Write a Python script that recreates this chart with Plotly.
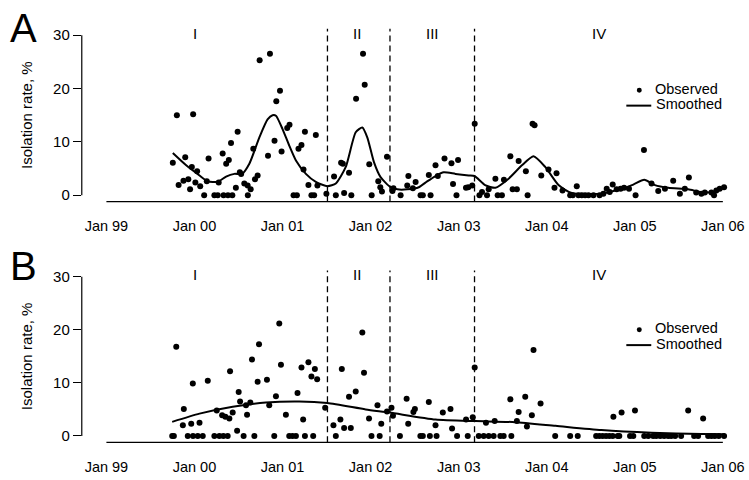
import plotly.graph_objects as go

# ---------------- data ----------------
tick_years = [1999, 2000, 2001, 2002, 2003, 2004, 2005, 2006]
tick_labels = ["Jan 99", "Jan 00", "Jan 01", "Jan 02", "Jan 03", "Jan 04", "Jan 05", "Jan 06"]
period_breaks = [2001.51, 2002.22, 2003.18]
period_names = ["I", "II", "III", "IV"]
period_label_x = [2000.01, 2001.85, 2002.70, 2004.59]

a_obs_year = [1999.754, 1999.80, 1999.82, 1999.875, 1999.895, 1999.93, 1999.95, 1999.97, 1999.985,
              2000.01, 2000.03, 2000.065, 2000.11, 2000.14, 2000.16, 2000.226, 2000.264, 2000.275,
              2000.32, 2000.33, 2000.36, 2000.38, 2000.39, 2000.415, 2000.43, 2000.47, 2000.49,
              2000.515, 2000.53, 2000.566, 2000.604, 2000.606, 2000.638, 2000.668, 2000.687, 2000.717,
              2000.740, 2000.835, 2000.857, 2000.909, 2000.929, 2000.971, 2000.989, 2001.053, 2001.079,
              2001.125, 2001.163, 2001.181, 2001.215, 2001.238, 2001.254, 2001.294, 2001.328, 2001.359,
              2001.378, 2001.396, 2001.498, 2001.585, 2001.605, 2001.665, 2001.685, 2001.699, 2001.755,
              2001.781, 2001.835, 2001.914, 2001.933, 2001.985, 2002.012, 2002.087, 2002.110, 2002.129,
              2002.186, 2002.248, 2002.259, 2002.341, 2002.416, 2002.429, 2002.480, 2002.511, 2002.567,
              2002.593, 2002.661, 2002.681, 2002.737, 2002.763, 2002.839, 2002.918, 2002.936, 2002.975,
              2002.993, 2003.083, 2003.109, 2003.154, 2003.182, 2003.236, 2003.265, 2003.322, 2003.341,
              2003.417, 2003.443, 2003.491, 2003.514, 2003.587, 2003.613, 2003.661, 2003.681, 2003.763,
              2003.783, 2003.839, 2003.862, 2003.938, 2004.020, 2004.088, 2004.111, 2004.179, 2004.266,
              2004.296, 2004.341, 2004.360, 2004.398, 2004.436, 2004.474, 2004.530, 2004.600, 2004.643,
              2004.681, 2004.715, 2004.749, 2004.794, 2004.839, 2004.878, 2004.934, 2005.009, 2005.104,
              2005.190, 2005.266, 2005.342, 2005.436, 2005.512, 2005.568, 2005.614, 2005.697, 2005.756,
              2005.795, 2005.870, 2005.900, 2005.926, 2005.964, 2006.014]
a_obs_rate = [6.1, 15.0, 1.9, 2.7, 7.1, 3.0, 1.1, 5.3, 15.2,
              2.4, 4.5, 1.7, 0, 2.6, 6.9, 0, 0, 2.4,
              7.8, 0, 5.9, 0, 6.6, 9.8, 0, 1.4, 11.9,
              4.3, 4.0, 2.2, 1.8, 0, 1.1, 8.7, 3.0, 3.7,
              25.3, 7.4, 26.5, 10.2, 17.6, 19.6, 8.2, 12.6, 13.2,
              0, 0, 8.7, 9.4, 4.8, 11.9, 1.9, 0, 0,
              11.3, 1.8, 0.3, 3.5, 0, 6.1, 5.9, 0.4, 4.2,
              0, 18.1, 26.5, 20.7, 5.8, 0, 2.6, 1.5, 0.7,
              7.2, 0.8, 1.3, 0, 1.8, 3.6, 1.3, 2.5, 0,
              0, 3.8, 0, 5.6, 3.6, 6.9, 6.0, 2.1, 0,
              6.6, 1.4, 1.5, 1.8, 13.4, 0, 0.6, 0, 1.1,
              3.1, 0, 0, 2.9, 7.3, 1.1, 1.1, 6.4, 4.5,
              0, 13.4, 13.1, 3.7, 4.8, 1.4, 4.1, 0.9, 0,
              0, 1.7, 0, 0, 0, 0, 0, 0, 0.3,
              1.2, 0.6, 2.0, 1.1, 1.2, 1.4, 1.2, 0, 8.5,
              2.2, 0.8, 1.2, 2.7, 0.3, 1.2, 3.3, 0.5, 0.3,
              0.5, 0.5, 0, 0.9, 1.2, 1.5]

a_smooth_year = [1999.754, 1999.906, 2000.057, 2000.151, 2000.264, 2000.359, 2000.453, 2000.54, 2000.623,
                 2000.736, 2000.830, 2000.887, 2000.925, 2001.0, 2001.076, 2001.152, 2001.265, 2001.378,
                 2001.51, 2001.605, 2001.718, 2001.831, 2001.906, 2001.963, 2002.038, 2002.113, 2002.227,
                 2002.303, 2002.416, 2002.548, 2002.642, 2002.737, 2002.83, 2002.964, 2003.114, 2003.18,
                 2003.30, 2003.417, 2003.567, 2003.718, 2003.85, 2003.983, 2004.134, 2004.284, 2004.624,
                 2004.85, 2004.983, 2005.107, 2005.229, 2005.38, 2005.606, 2005.757, 2005.908, 2006.02]
a_smooth_rate = [7.9, 5.6, 3.7, 2.6, 2.5, 3.5, 4.0, 4.0, 5.9,
                 10.8, 14.2, 15.0, 14.9, 12.4, 9.3, 6.5, 4.0, 2.5,
                 1.7, 2.2, 5.3, 11.8, 12.7, 10.8, 6.2, 3.4, 1.5,
                 1.1, 1.1, 1.5, 2.6, 3.6, 4.3, 4.0, 3.7, 3.6,
                 1.9, 1.4, 3.1, 5.6, 7.3, 5.3, 1.9, 0.4, 0.3,
                 1.2, 2.0, 2.9, 1.9, 1.4, 1.1, 0.6, 0.6, 1.5]

b_obs_year = [1999.747, 1999.766, 1999.793, 1999.868, 1999.879, 1999.924, 1999.963, 1999.981, 1999.983,
              2000.037, 2000.057, 2000.094, 2000.151, 2000.226, 2000.253, 2000.283, 2000.314, 2000.328,
              2000.351, 2000.377, 2000.396, 2000.404, 2000.434, 2000.484, 2000.502, 2000.518, 2000.558,
              2000.585, 2000.597, 2000.634, 2000.653, 2000.680, 2000.717, 2000.733, 2000.823, 2000.849,
              2000.906, 2000.925, 2000.963, 2000.982, 2001.038, 2001.076, 2001.113, 2001.152, 2001.170,
              2001.215, 2001.234, 2001.254, 2001.294, 2001.328, 2001.348, 2001.367, 2001.393, 2001.484,
              2001.578, 2001.605, 2001.657, 2001.673, 2001.699, 2001.755, 2001.775, 2001.831, 2001.906,
              2001.925, 2001.982, 2002.010, 2002.078, 2002.103, 2002.121, 2002.186, 2002.237, 2002.254,
              2002.333, 2002.409, 2002.427, 2002.486, 2002.503, 2002.565, 2002.593, 2002.661, 2002.673,
              2002.737, 2002.749, 2002.820, 2002.907, 2002.925, 2002.982, 2003.084, 2003.103, 2003.160,
              2003.182, 2003.228, 2003.284, 2003.310, 2003.341, 2003.397, 2003.409, 2003.473, 2003.511,
              2003.587, 2003.598, 2003.661, 2003.681, 2003.756, 2003.775, 2003.831, 2003.850, 2003.930,
              2004.096, 2004.266, 2004.352, 2004.561, 2004.598, 2004.635, 2004.674, 2004.711, 2004.749,
              2004.757, 2004.805, 2004.824, 2004.850, 2004.946, 2004.983, 2005.002, 2005.107, 2005.153,
              2005.209, 2005.244, 2005.289, 2005.334, 2005.379, 2005.413, 2005.458, 2005.526, 2005.606,
              2005.674, 2005.719, 2005.776, 2005.833, 2005.870, 2005.908, 2005.953, 2006.014]
b_obs_rate = [0, 0, 16.8, 2.0, 5.1, 0, 2.3, 9.9, 0,
              0, 2.5, 0, 10.4, 0, 4.8, 0, 3.9, 0,
              3.6, 0, 3.3, 12.2, 4.4, 1.0, 8.3, 6.5, 0,
              5.8, 4.0, 6.3, 14.4, 0, 10.2, 17.3, 10.6, 5.8,
              0, 7.5, 21.2, 13.4, 4.0, 0, 0, 0, 8.1,
              12.9, 3.1, 0, 13.9, 11.2, 0, 12.6, 10.7, 5.3,
              2.0, 0, 3.1, 12.6, 1.5, 7.4, 1.5, 8.4, 19.5,
              11.9, 3.3, 0, 5.8, 0, 2.3, 4.6, 5.3, 3.8,
              0, 7.0, 2.3, 4.5, 5.1, 0, 0, 6.4, 0,
              2.0, 0, 4.4, 5.1, 1.4, 0, 3.1, 0, 3.5,
              12.9, 0, 0, 2.5, 0, 0, 2.8, 0, 0,
              6.9, 0, 2.8, 4.5, 7.4, 1.8, 3.9, 16.2, 6.1,
              0, 0, 0, 0, 0, 0, 0, 0, 0,
              3.6, 0, 0, 4.4, 0, 0, 4.8, 0, 0,
              0, 0, 0, 0, 0, 0, 0, 0, 4.8,
              0, 0, 3.3, 0, 0, 0, 0, 0]

b_smooth_year = [1999.747, 2000.057, 2000.434, 2000.81, 2001.19, 2001.51, 2001.944, 2002.216, 2002.737,
                 2003.19, 2003.64, 2004.10, 2004.62, 2005.19, 2005.76, 2006.02]
b_smooth_rate = [2.65, 4.2, 5.5, 6.3, 6.5, 6.2, 5.0, 4.4, 3.1,
                 2.8, 2.6, 1.9, 1.1, 0.6, 0.35, 0.3]

# ---------------- layout helpers ----------------
W, H = 749, 480
FONT = "Liberation Sans, Arial, Helvetica, sans-serif"
X_RANGE = [1998.7203, 2006.2288]
Y_RANGE = [-1.2, 31.2]
x_dom = [82 / W, 745 / W]
panels = [
    dict(xa="x", ya="y", ydom=[1 - 201.3 / H, 1 - 27 / H], letter="A", letter_y=1 - 26 / H,
         leg_y=[87.5, 103], obs=(a_obs_year, a_obs_rate), sm=(a_smooth_year, a_smooth_rate)),
    dict(xa="x2", ya="y2", ydom=[1 - 444 / H, 1 - 270.7 / H], letter="B", letter_y=1 - 266 / H,
         leg_y=[329, 344.5], obs=(b_obs_year, b_obs_rate), sm=(b_smooth_year, b_smooth_rate)),
]

fig = go.Figure()
shapes, annotations = [], []

for i, p in enumerate(panels):
    fig.add_trace(go.Scatter(x=p["obs"][0], y=p["obs"][1], mode="markers", name="Observed",
                             marker=dict(color="black", size=6), xaxis=p["xa"], yaxis=p["ya"],
                             showlegend=False))
    fig.add_trace(go.Scatter(x=p["sm"][0], y=p["sm"][1], mode="lines", name="Smoothed",
                             line=dict(color="black", width=2, shape="spline", smoothing=0.6),
                             xaxis=p["xa"], yaxis=p["ya"], showlegend=False))
    suffix = "" if i == 0 else "2"
    fig.update_layout(**{
        "xaxis" + suffix: dict(domain=x_dom, range=X_RANGE, anchor=p["ya"], showgrid=False,
                               zeroline=False, showline=False, tickmode="array",
                               tickvals=tick_years, ticktext=tick_labels, ticks="outside",
                               ticklen=11, tickcolor="rgba(0,0,0,0)",
                               tickfont=dict(family=FONT, size=14.5, color="black")),
        "yaxis" + suffix: dict(domain=p["ydom"], range=Y_RANGE, anchor=p["xa"], showgrid=False,
                               zeroline=False, showline=False, tickmode="array",
                               tickvals=[0, 10, 20, 30], ticks="outside", ticklen=8,
                               tickwidth=1.2, tickcolor="black",
                               tickfont=dict(family=FONT, size=15, color="black"),
                               title=dict(text="Isolation rate, %", standoff=16,
                                          font=dict(family=FONT, size=15, color="black"))),
    })
    # y-axis line from 0 to 30, x-axis line from Jan 99 to Jan 06
    shapes.append(dict(type="line", xref=p["xa"] + " domain", yref=p["ya"], x0=0, x1=0, y0=0, y1=30,
                       line=dict(color="black", width=1.2)))
    shapes.append(dict(type="line", xref=p["xa"], yref=p["ya"] + " domain", x0=tick_years[0],
                       x1=tick_years[-1], y0=0, y1=0, line=dict(color="black", width=1.3)))
    for xb in period_breaks:
        shapes.append(dict(type="line", xref=p["xa"], yref=p["ya"] + " domain", x0=xb, x1=xb,
                           y0=0, y1=1, line=dict(color="black", width=1.3, dash="6px,4px")))
    for name, xl in zip(period_names, period_label_x):
        annotations.append(dict(text=name, x=xl, y=30.4, xref=p["xa"], yref=p["ya"], showarrow=False,
                                font=dict(family=FONT, size=15, color="black")))
    annotations.append(dict(text=p["letter"], x=23.5 / W, y=p["letter_y"], xref="paper", yref="paper",
                            xanchor="center", yanchor="middle", showarrow=False,
                            font=dict(family=FONT, size=40, color="black")))
    # legend key
    ly0, ly1 = p["leg_y"]
    shapes.append(dict(type="circle", xref="paper", yref="paper", x0=638.5 / W, x1=643.5 / W,
                       y0=1 - (ly0 + 4) / H, y1=1 - (ly0 - 1) / H, fillcolor="black", line=dict(width=0)))
    shapes.append(dict(type="line", xref="paper", yref="paper", x0=628 / W, x1=653 / W,
                       y0=1 - (ly1 + 1.5) / H, y1=1 - (ly1 + 1.5) / H, line=dict(color="black", width=2)))
    annotations.append(dict(text="Observed", x=656 / W, y=1 - ly0 / H, xref="paper", yref="paper",
                            xanchor="left", yanchor="middle", showarrow=False, borderpad=0,
                            font=dict(family=FONT, size=14.5, color="black")))
    annotations.append(dict(text="Smoothed", x=657 / W, y=1 - ly1 / H, xref="paper", yref="paper",
                            xanchor="left", yanchor="middle", showarrow=False, borderpad=0,
                            font=dict(family=FONT, size=14.5, color="black")))

fig.update_layout(width=W, height=H, margin=dict(l=0, r=0, t=0, b=0),
                  paper_bgcolor="white", plot_bgcolor="white", showlegend=False,
                  shapes=shapes, annotations=annotations, font=dict(family=FONT, color="black"))
fig.write_html("out.html", config={"displayModeBar": False},
               post_script="document.body.style.margin='0px';")
